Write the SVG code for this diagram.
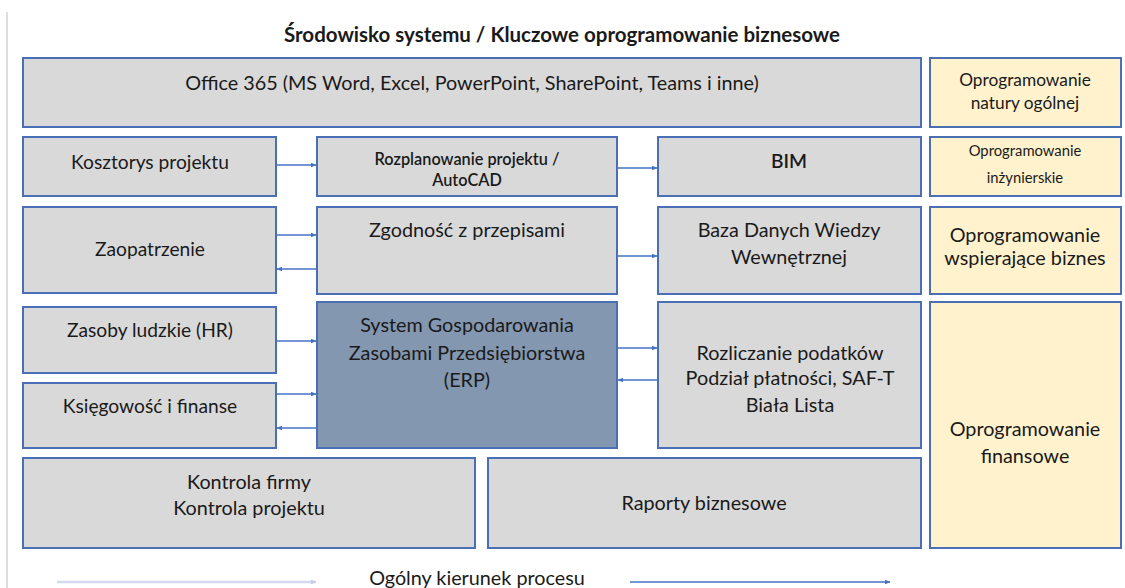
<svg xmlns="http://www.w3.org/2000/svg" width="1125" height="588" viewBox="0 0 1125 588">
<defs>
<style>
.box{fill:#d9d9d9;stroke:#4a6fb5;stroke-width:2}
.erp{fill:#8497b0;stroke:#4a6fb5;stroke-width:2}
.yel{fill:#fff2cc;stroke:#4a6fb5;stroke-width:2}
text{font-family:Lato,"Open Sans","Liberation Sans",sans-serif;fill:#1a1a1a;text-anchor:middle}
.t18{font-size:19.8px}
.t17{font-size:19.2px}
.t15{font-size:17.3px}
.t14{font-size:16.3px}
.t12{font-size:14.8px}
.c{stroke:#4472c4;stroke-width:1.5;fill:none}
</style>
<marker id="ah" viewBox="0 0 10 10" refX="9" refY="5" markerWidth="6" markerHeight="6" orient="auto" markerUnits="userSpaceOnUse">
<path d="M0,1 L10,5 L0,9 z" fill="#4472c4"/>
</marker>
<marker id="ahl" viewBox="0 0 10 10" refX="9" refY="5" markerWidth="6" markerHeight="6" orient="auto" markerUnits="userSpaceOnUse">
<path d="M0,1 L10,5 L0,9 z" fill="#c3cbe6"/>
</marker>
</defs>
<rect width="1125" height="588" fill="#ffffff"/>
<line x1="7" y1="12" x2="7" y2="588" stroke="#d4d4d4" stroke-width="1.5"/>
<text x="562" y="42" style="font-size:20.5px;font-weight:bold">Środowisko systemu / Kluczowe oprogramowanie biznesowe</text>

<g id="office"><rect class="box" x="23" y="58" width="898" height="69"/><text class="t18" x="472" y="90">Office 365 (MS Word, Excel, PowerPoint, SharePoint, Teams i inne)</text></g>
<g id="kosztorys"><rect class="box" x="23" y="137" width="253" height="59"/><text class="t17" x="150" y="169">Kosztorys projektu</text></g>
<g id="rozplanowanie"><rect class="box" x="317" y="137" width="300" height="59"/><text class="t14" x="467" y="165" style="font-weight:600">Rozplanowanie projektu /</text><text class="t14" x="467" y="186" style="font-weight:600">AutoCAD</text></g>
<g id="bim"><rect class="box" x="658" y="137" width="263" height="59"/><text class="t17" x="789" y="168" style="font-weight:600">BIM</text></g>
<g id="zaopatrzenie"><rect class="box" x="23" y="207" width="253" height="86"/><text class="t17" x="150" y="256">Zaopatrzenie</text></g>
<g id="zgodnosc"><rect class="box" x="317" y="207" width="300" height="87"/><text class="t18" x="467" y="237">Zgodność z przepisami</text></g>
<g id="baza"><rect class="box" x="658" y="207" width="263" height="87"/><text class="t18" x="789" y="237">Baza Danych Wiedzy</text><text class="t18" x="789" y="264">Wewnętrznej</text></g>
<g id="zasoby"><rect class="box" x="23" y="307" width="253" height="66"/><text class="t17" x="150" y="337">Zasoby ludzkie (HR)</text></g>
<g id="ksiegowosc"><rect class="box" x="23" y="383" width="253" height="65"/><text class="t17" x="150" y="413">Księgowość i finanse</text></g>
<g id="erp"><rect class="erp" x="317" y="302" width="300" height="146"/><text class="t18" x="467" y="332">System Gospodarowania</text><text class="t18" x="467" y="360">Zasobami Przedsiębiorstwa</text><text class="t18" x="467" y="387">(ERP)</text></g>
<g id="rozliczanie"><rect class="box" x="658" y="302" width="263" height="146"/><text class="t18" x="790" y="360">Rozliczanie podatków</text><text class="t18" x="790" y="385">Podział płatności, SAF-T</text><text class="t18" x="790" y="412">Biała Lista</text></g>
<g id="kontrola"><rect class="box" x="23" y="458" width="452" height="90"/><text class="t18" x="249" y="489">Kontrola firmy</text><text class="t18" x="249" y="515">Kontrola projektu</text></g>
<g id="raporty"><rect class="box" x="488" y="458" width="433" height="90"/><text class="t18" x="704" y="510">Raporty biznesowe</text></g>
<g id="sw-ogolne"><rect class="yel" x="930" y="58" width="191" height="69"/><text class="t15" x="1025" y="86">Oprogramowanie</text><text class="t15" x="1025" y="109">natury ogólnej</text></g>
<g id="sw-inz"><rect class="yel" x="930" y="137" width="191" height="59"/><text class="t12" x="1025" y="156">Oprogramowanie</text><text class="t12" x="1025" y="183">inżynierskie</text></g>
<g id="sw-biznes"><rect class="yel" x="930" y="207" width="191" height="87"/><text class="t18" x="1025" y="242">Oprogramowanie</text><text class="t18" x="1025" y="265">wspierające biznes</text></g>
<g id="sw-finanse"><rect class="yel" x="930" y="302" width="191" height="246"/><text class="t18" x="1025" y="436">Oprogramowanie</text><text class="t18" x="1025" y="463">finansowe</text></g>

<g id="connectors">
<line class="c" x1="277" y1="165" x2="316" y2="165" marker-end="url(#ah)"/>
<line class="c" x1="618" y1="168" x2="657" y2="168" marker-end="url(#ah)"/>
<line class="c" x1="277" y1="235" x2="316" y2="235" marker-end="url(#ah)"/>
<line class="c" x1="316" y1="269" x2="277" y2="269" marker-end="url(#ah)"/>
<line class="c" x1="618" y1="256" x2="657" y2="256" marker-end="url(#ah)"/>
<line class="c" x1="277" y1="341" x2="316" y2="341" marker-end="url(#ah)"/>
<line class="c" x1="277" y1="394" x2="316" y2="394" marker-end="url(#ah)"/>
<line class="c" x1="316" y1="428" x2="277" y2="428" marker-end="url(#ah)"/>
<line class="c" x1="618" y1="348" x2="657" y2="348" marker-end="url(#ah)"/>
<line class="c" x1="657" y1="380" x2="618" y2="380" marker-end="url(#ah)"/>
<line x1="57" y1="582" x2="316" y2="582" stroke="#d3d9ef" stroke-width="2.5" marker-end="url(#ahl)"/>
<line class="c" x1="630" y1="582" x2="890" y2="582" stroke-width="2" marker-end="url(#ah)"/>
</g>
<text class="t18" x="477" y="585">Ogólny kierunek procesu</text>
</svg>
